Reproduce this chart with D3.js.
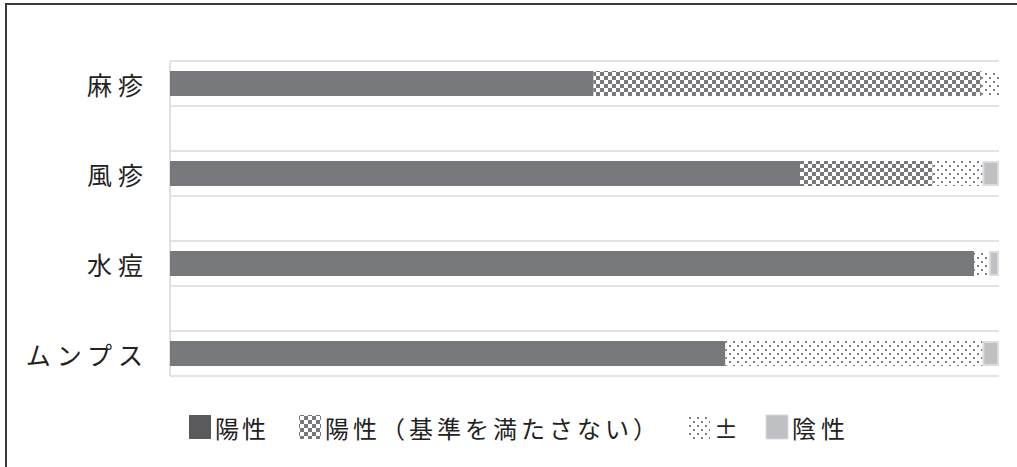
<!DOCTYPE html>
<html><head><meta charset="utf-8">
<script src="https://cdn.jsdelivr.net/npm/d3@7"></script>
<style>
html,body{margin:0;padding:0;background:#fff;}
svg{display:block;}
text{font-family:"Noto Sans CJK JP","Noto Sans",sans-serif;fill:#222;}
</style></head>
<body>
<svg id="chart" width="1017" height="467"></svg>
<script>
const categories = ["麻疹","風疹","水痘","ムンプス"];
const seriesNames = ["陽性","陽性（基準を満たさない）","±","陰性"];
const positive = [51.1, 76.0, 97.0, 67.0];
const positiveBelow = [46.8, 16.0, 0, 0];
const equivocal = [2.1, 6.0, 1.8, 31.0];
const negative = [0, 2.0, 1.2, 2.0];
const xDomain = [0, 100];

const svg = d3.select("#chart");
const W = 1017, H = 467;
svg.append("rect").attr("width", W).attr("height", H).attr("fill", "#fff");

// patterns
const defs = svg.append("defs");
const chk = defs.append("pattern").attr("id","checker").attr("patternUnits","userSpaceOnUse")
  .attr("width",8).attr("height",8);
chk.append("rect").attr("width",8).attr("height",8).attr("fill","#fff");
chk.append("rect").attr("x",0).attr("y",0).attr("width",4).attr("height",4).attr("fill","#77787b");
chk.append("rect").attr("x",4).attr("y",4).attr("width",4).attr("height",4).attr("fill","#77787b");
const dot = defs.append("pattern").attr("id","dots").attr("patternUnits","userSpaceOnUse")
  .attr("width",8).attr("height",8);
dot.append("rect").attr("width",8).attr("height",8).attr("fill","#fff");
dot.append("rect").attr("x",1).attr("y",1).attr("width",2).attr("height",2).attr("fill","#808080");
dot.append("rect").attr("x",5).attr("y",5).attr("width",2).attr("height",2).attr("fill","#808080");

const fills = ["#77787b","url(#checker)","url(#dots)","#bfc0c4"];
const strokes = ["none","none","none","#dcdcdc"];

// outer frame (cropped)
svg.append("rect").attr("x",6).attr("y",4).attr("width",1200).attr("height",700)
  .attr("fill","none").attr("stroke","#3a3a3a").attr("stroke-width",2);

const x = d3.scaleLinear().domain(xDomain).range([170, 999]);
const y = d3.scaleBand().domain(categories).range([61, 421]);
const half = y.bandwidth()/2;
const inner = d3.scaleBand().domain(["bar"]).range([0, half]).padding(20/70);

// gridlines
const gl = [];
categories.forEach(c => { gl.push(y(c)); gl.push(y(c)+half); });
svg.append("g").selectAll("line").data(gl).join("line")
  .attr("x1", x(0)).attr("x2", x(100)).attr("y1", d=>d).attr("y2", d=>d)
  .attr("stroke","#dadada").attr("stroke-width",1.6);
svg.append("line").attr("x1",x(0)).attr("x2",x(0)).attr("y1",gl[0]).attr("y2",gl[gl.length-1])
  .attr("stroke","#dadada").attr("stroke-width",1.6);

// stacked bars
const rows = categories.map((c,i)=>({cat:c, v:[positive[i],positiveBelow[i],equivocal[i],negative[i]]}));
const segs = [];
rows.forEach(r => {
  let acc = 0;
  r.v.forEach((v,k) => { if (v>0) segs.push({cat:r.cat, k, x0:acc, x1:acc+v}); acc += v; });
});
svg.append("g").selectAll("rect").data(segs).join("rect")
  .attr("x", d => x(d.x0) + (d.k===3 ? 1 : 0))
  .attr("width", d => x(d.x1)-x(d.x0) - (d.k===3 ? 2 : 0))
  .attr("y", d => y(d.cat)+inner("bar") + (d.k===3 ? 1 : 0))
  .attr("height", d => inner.bandwidth() - (d.k===3 ? 2 : 0))
  .attr("fill", d => fills[d.k])
  .attr("stroke", d => strokes[d.k]).attr("stroke-width", 2);

// category labels
svg.append("g").selectAll("text").data(categories).join("text")
  .attr("x", 149).attr("y", d => y(d)+inner("bar")+inner.bandwidth()/2)
  .attr("text-anchor","end").attr("dominant-baseline","central")
  .attr("font-size",25).attr("letter-spacing","6px")
  .text(d=>d);

// legend (item positions follow the reference layout)
const lg = svg.append("g");
const legendX = [189, 299, 688, 766];
const legendSpacing = ["3px","4px","3px","5px"];
const ly = 427, sq = 24;
seriesNames.forEach((n,k) => {
  const lx = legendX[k];
  lg.append("rect").attr("x",lx).attr("y",ly-sq/2).attr("width",sq-2).attr("height",sq)
    .attr("fill", k===0 ? "#5a5a5c" : fills[k]).attr("stroke", k===3 ? "#dcdcdc" : "none");
  lg.append("text").attr("x", lx+sq+2).attr("y", ly).attr("dominant-baseline","central")
    .attr("font-size",24).attr("letter-spacing", legendSpacing[k]).text(n);
});
</script>
</body></html>
